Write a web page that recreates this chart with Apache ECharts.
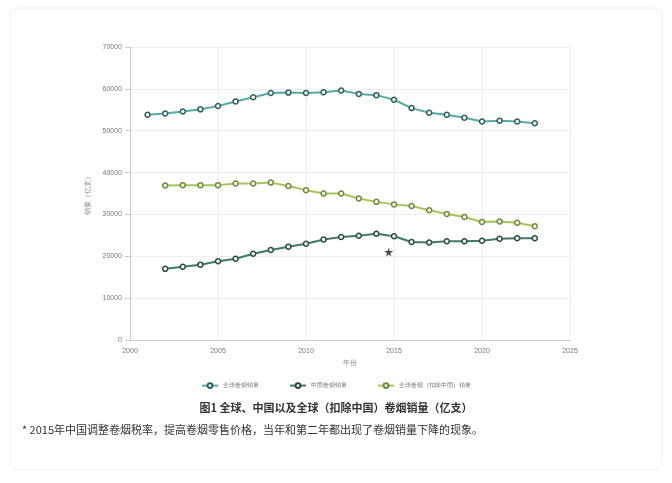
<!DOCTYPE html><html><head><meta charset="utf-8">
<script src="https://cdn.jsdelivr.net/npm/echarts@6/dist/echarts.min.js"></script>
<style>html,body{margin:0;background:#fff}#c{width:672px;height:483px}</style></head><body><div id="c"></div>
<script>
const seriesNames=['全球卷烟销量','中国卷烟销量','全球卷烟（扣除中国）销量'];
const globalYears=[2001,2002,2003,2004,2005,2006,2007,2008,2009,2010,2011,2012,2013,2014,2015,2016,2017,2018,2019,2020,2021,2022,2023];
const globalVals=[53800,54100,54600,55100,55900,57000,58000,59000,59100,59000,59200,59600,58800,58500,57400,55400,54300,53800,53100,52200,52400,52200,51800];
const otherYears=[2002,2003,2004,2005,2006,2007,2008,2009,2010,2011,2012,2013,2014,2015,2016,2017,2018,2019,2020,2021,2022,2023];
const chinaVals=[17000,17500,18000,18800,19400,20600,21500,22300,23000,24000,24600,24900,25400,24800,23400,23300,23600,23600,23700,24200,24300,24300];
const exChinaVals=[36900,37000,37000,37000,37400,37400,37600,36800,35800,35000,35000,33800,33000,32400,32000,31000,30100,29400,28200,28300,28000,27200];
const starPoint=[2014.7,21000];
const pair=(xs,ys)=>xs.map((x,i)=>[x,ys[i]]);
const mk=(name,data,line,marker)=>({name,type:'line',data,symbol:'circle',symbolSize:5,
 lineStyle:{color:line,width:2},itemStyle:{color:'#fff',borderColor:marker,borderWidth:1.5},color:line});
const ch=echarts.init(document.getElementById('c'));
ch.setOption({
 animation:false,
 grid:{left:130,right:102,top:47,bottom:143},
 xAxis:{type:'value',min:2000,max:2025,interval:5,axisLine:{lineStyle:{color:'#ccc'}},axisTick:{show:false},
  axisLabel:{color:'#777',fontSize:7,formatter:v=>String(v)},splitLine:{lineStyle:{color:'#eee'}},name:'年份',nameLocation:'middle',nameGap:18,nameTextStyle:{color:'#888',fontSize:7}},
 yAxis:{type:'value',min:0,max:70000,interval:10000,axisLine:{show:true,lineStyle:{color:'#ccc'}},axisLabel:{color:'#777',fontSize:7,formatter:v=>String(v)},
  splitLine:{lineStyle:{color:'#eee'}},name:'销量（亿支）',nameLocation:'middle',nameGap:30,nameTextStyle:{color:'#888',fontSize:7}},
 legend:{bottom:89,itemWidth:16,itemHeight:6,itemGap:30,textStyle:{fontSize:6,color:'#777'},data:seriesNames},
 series:[mk(seriesNames[0],pair(globalYears,globalVals),'#5aa9a3','#2f5f5a'),
  mk(seriesNames[1],pair(otherYears,chinaVals),'#3f7a6a','#2a4a40'),
  mk(seriesNames[2],pair(otherYears,exChinaVals),'#a6c45a','#6d8a36'),
  {type:'scatter',data:[starPoint],symbol:'path://M50,0 L61,35 L98,35 L68,57 L79,91 L50,70 L21,91 L32,57 L2,35 L39,35 Z',symbolSize:9,itemStyle:{color:'#222'},silent:true}],
 graphic:[
  {type:'rect',shape:{x:10,y:8,width:652,height:462,r:8},style:{fill:'none',stroke:'#eee',lineWidth:1},z:-1},
  {type:'text',left:'center',top:402,style:{text:'图1 全球、中国以及全球（扣除中国）卷烟销量（亿支）',font:'bold 11px "Noto Sans CJK SC"',fill:'#333'}},
  {type:'text',left:22,top:424,style:{text:'* 2015年中国调整卷烟税率，提高卷烟零售价格，当年和第二年都出现了卷烟销量下降的现象。',font:'11px "Noto Sans CJK SC"',fill:'#333'}}
 ]
});
</script></body></html>
